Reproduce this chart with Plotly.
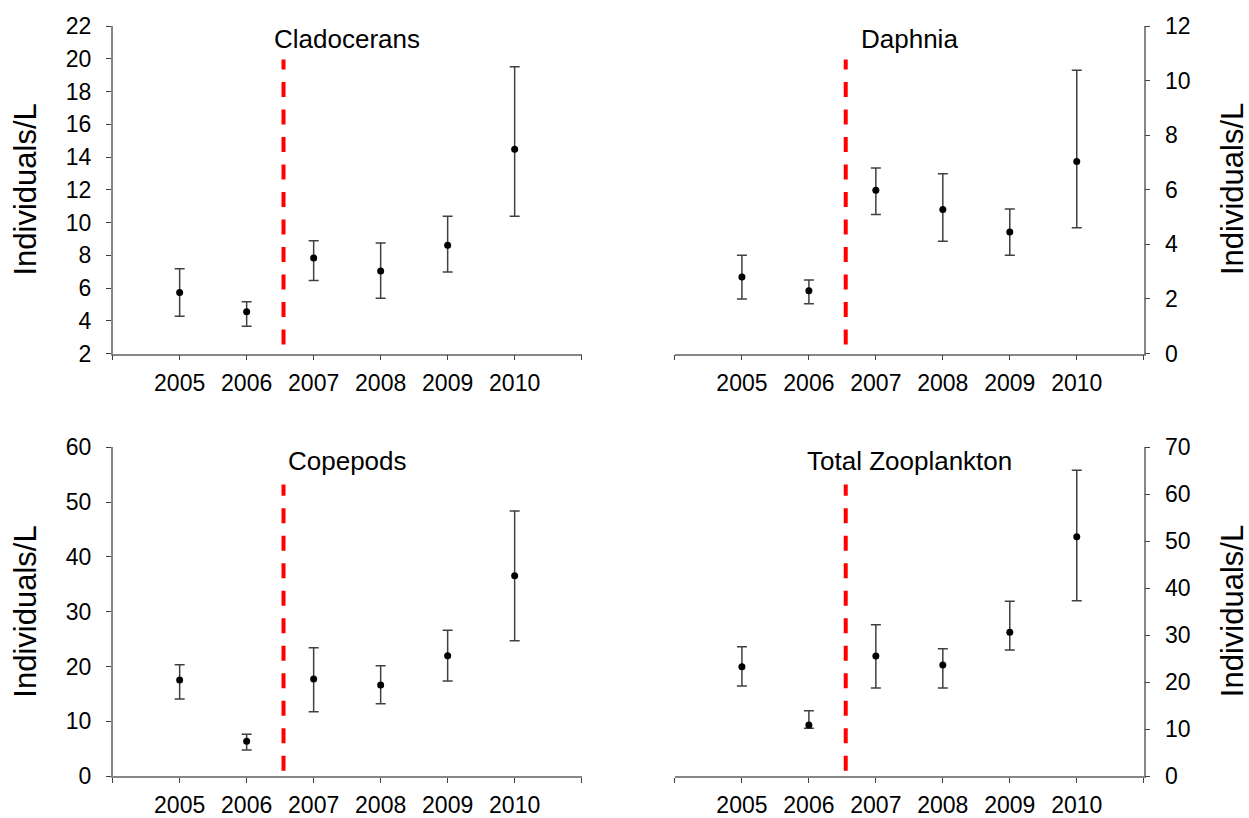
import plotly.graph_objects as go

years = [2005, 2006, 2007, 2008, 2009, 2010]

clad_mean = [5.73, 4.55, 7.83, 7.04, 8.61, 14.48]
clad_upper = [7.18, 5.16, 8.88, 8.75, 10.38, 19.51]
clad_lower = [4.28, 3.67, 6.46, 5.38, 6.98, 10.38]

daph_mean = [2.80, 2.30, 5.98, 5.28, 4.45, 7.04]
daph_upper = [3.60, 2.69, 6.80, 6.59, 5.30, 10.38]
daph_lower = [2.00, 1.82, 5.09, 4.11, 3.60, 4.61]

cope_mean = [17.52, 6.33, 17.71, 16.61, 21.97, 36.57]
cope_upper = [20.32, 7.61, 23.43, 20.14, 26.59, 48.38]
cope_lower = [14.06, 4.75, 11.75, 13.21, 17.34, 24.70]

total_mean = [23.28, 10.86, 25.55, 23.64, 30.59, 50.97]
total_upper = [27.54, 13.91, 32.22, 27.12, 37.19, 65.10]
total_lower = [19.17, 10.15, 18.74, 18.74, 26.83, 37.34]

titles = ["Cladocerans", "Daphnia", "Copepods", "Total Zooplankton"]
y_title = "Individuals/L"
y_ranges = [[2, 22], [0, 12], [0, 60], [0, 70]]
y_dticks = [2, 2, 10, 10]
treatment_year = 2006.55

x_ticks = [2004, 2005, 2006, 2007, 2008, 2009, 2010, 2011]
x_ticktext = ["", "2005", "2006", "2007", "2008", "2009", "2010", ""]

FONT = "Arial, Liberation Sans, sans-serif"

series = [
    (clad_mean, clad_upper, clad_lower),
    (daph_mean, daph_upper, daph_lower),
    (cope_mean, cope_upper, cope_lower),
    (total_mean, total_upper, total_lower),
]

x_domains = [[0.0902, 0.4657], [0.5404, 0.9157], [0.0902, 0.4657], [0.5404, 0.9157]]
y_domains = [[0.5678, 0.9682], [0.5678, 0.9682], [0.0513, 0.4532], [0.0513, 0.4532]]
sides = ["left", "right", "left", "right"]

fig = go.Figure()
layout = dict(
    width=1249, height=818,
    margin=dict(l=0, r=0, t=0, b=0, autoexpand=False),
    paper_bgcolor="white", plot_bgcolor="white",
    showlegend=False,
    font=dict(family=FONT, color="black"),
)

shapes = []
annotations = []
for i, (m, up, lo) in enumerate(series):
    n = "" if i == 0 else str(i + 1)
    xa, ya = "x" + n, "y" + n
    fig.add_trace(go.Scatter(
        x=years, y=m, mode="markers", xaxis=xa, yaxis=ya,
        marker=dict(color="black", size=7),
        error_y=dict(type="data", symmetric=False,
                     array=[u - v for u, v in zip(up, m)],
                     arrayminus=[v - l for v, l in zip(m, lo)],
                     color="#404040", thickness=1.5, width=5),
    ))
    layout["xaxis" + n] = dict(
        domain=x_domains[i], anchor=ya, range=[2004, 2011],
        tickmode="array", tickvals=x_ticks, ticktext=x_ticktext,
        showline=True, linecolor="#868686", linewidth=1.5,
        ticks="outside", ticklen=5, tickcolor="#404040", tickwidth=1,
        showgrid=False, zeroline=False, automargin=False,
        tickfont=dict(size=23, family=FONT, color="black"),
        ticklabelstandoff=3,
    )
    layout["yaxis" + n] = dict(
        domain=y_domains[i], anchor=xa, range=y_ranges[i], dtick=y_dticks[i],
        side=sides[i],
        showline=True, linecolor="#868686", linewidth=1.5,
        ticks="outside", ticklen=5, tickcolor="#404040", tickwidth=1,
        showgrid=False, zeroline=False, automargin=False,
        tickfont=dict(size=23, family=FONT, color="black"),
        ticklabelstandoff=10,
    )
    top_row = i < 2
    shapes.append(dict(
        type="line", xref=xa, yref=ya + " domain",
        x0=treatment_year, x1=treatment_year,
        y0=0.0275 if top_row else 0.016, y1=0.898 if top_row else 0.887,
        line=dict(color="#FF0000", width=4, dash="15px,12.5px"),
    ))
    annotations.append(dict(
        text=titles[i], xref=xa + " domain", yref="paper",
        x=0.5, y=0.9523 if top_row else 0.4362,
        xanchor="center", yanchor="middle", showarrow=False,
        font=dict(size=26, family=FONT, color="black"),
    ))
    annotations.append(dict(
        text=y_title, xref="paper", yref="paper",
        x=(26 if sides[i] == "left" else 1232.5) / 1249,
        y=0.7683 if top_row else 0.2522,
        xanchor="center", yanchor="middle", textangle=-90, showarrow=False,
        font=dict(size=31, family=FONT, color="black"),
    ))

layout["shapes"] = shapes
layout["annotations"] = annotations
fig.update_layout(**layout)
fig.write_html(
    "out.html",
    config={"displayModeBar": False},
    post_script="document.body.style.margin='0px';document.body.style.overflow='hidden';",
)
